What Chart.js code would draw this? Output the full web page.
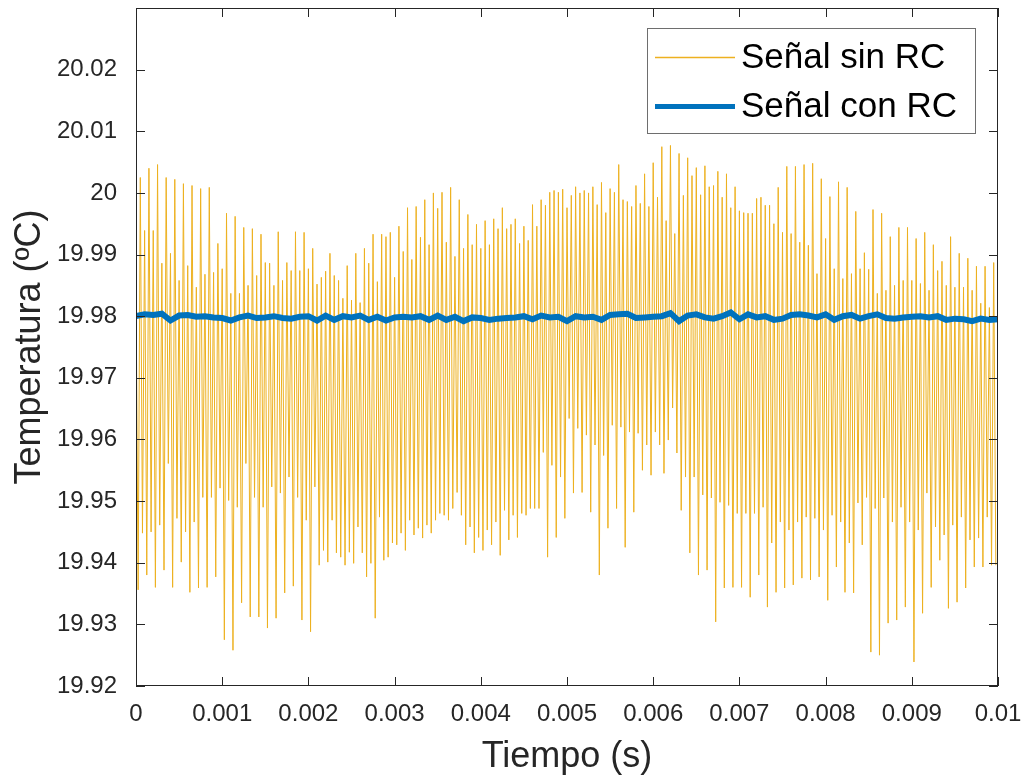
<!DOCTYPE html>
<html>
<head>
<meta charset="utf-8">
<script src="https://cdn.jsdelivr.net/npm/chart.js@4.4.1/dist/chart.umd.min.js"></script>
<style>
  body { margin: 0; background: #fff; }
  #caja { width: 1025px; height: 779px; }
</style>
</head>
<body>
<div id="caja"><canvas id="myChart" width="1025" height="779"></canvas></div>
<script>
// periodo de la oscilacion (s), 4 muestras por periodo
const periodo = 0.0001;

// picos altos de cada periodo (segunda muestra alta)
const picosA = [
  20.0025, 20.0040, 20.0046, 20.0025, 20.0022, 20.0015, 20.0012, 20.0007, 20.0009, 19.9918,
  19.9967, 19.9962, 19.9944, 19.9942, 19.9933, 19.9886, 19.9937, 19.9887, 19.9937, 19.9936,
  19.9910, 19.9863, 19.9902, 19.9858, 19.9882, 19.9902, 19.9910, 19.9933, 19.9933, 19.9936,
  19.9946, 19.9976, 19.9978, 19.9989, 20.0000, 20.0001, 20.0009, 19.9989, 19.9965, 19.9949,
  19.9955, 19.9958, 19.9976, 19.9949, 19.9918, 19.9923, 19.9946, 19.9980, 20.0004, 20.0006,
  19.9996, 20.0000, 20.0000, 19.9981, 19.9968, 20.0001, 19.9989, 19.9978, 19.9983, 19.9978,
  19.9993, 19.9955, 19.9934, 19.9996, 20.0028, 19.9997, 20.0010, 20.0035, 20.0031, 20.0010,
  19.9968, 19.9967, 19.9993, 19.9980, 20.0009, 20.0043, 20.0043, 20.0046, 20.0048, 20.0023,
  19.9994, 20.0018, 20.0009, 19.9970, 19.9903, 19.9973, 19.9967, 19.9929, 19.9944, 19.9944,
  19.9926, 19.9936, 19.9916, 19.9889, 19.9929, 19.9902, 19.9894, 19.9881, 19.9881, 19.9887
];

// picos de la primera muestra de cada periodo
const picosB = [
  19.9850, 19.9939, 19.9939, 19.9886, 19.9902, 19.9858, 19.9882, 19.9847, 19.9868, 19.9871,
  19.9877, 19.9837, 19.9837, 19.9850, 19.9866, 19.9887, 19.9850, 19.9858, 19.9874, 19.9874,
  19.9877, 19.9852, 19.9873, 19.9866, 19.9829, 19.9826, 19.9822, 19.9886, 19.9856, 19.9929,
  19.9863, 19.9905, 19.9892, 19.9928, 19.9916, 19.9975, 19.9920, 19.9897, 19.9910, 19.9916,
  19.9910, 19.9916, 19.9942, 19.9942, 19.9958, 19.9946, 19.9981, 19.9989, 20.0001, 20.0001,
  19.9976, 20.0010, 20.0004, 20.0010, 20.0017, 20.0007, 20.0046, 19.9986, 20.0012, 20.0031,
  20.0049, 20.0075, 20.0077, 20.0064, 20.0057, 20.0041, 20.0044, 20.0012, 19.9993, 19.9976,
  19.9971, 19.9967, 19.9991, 19.9980, 19.9950, 19.9936, 19.9934, 19.9920, 19.9915, 19.9869,
  19.9926, 19.9877, 19.9861, 19.9869, 19.9877, 19.9876, 19.9837, 19.9842, 19.9850, 19.9858,
  19.9858, 19.9853, 19.9842, 19.9874, 19.9850, 19.9847, 19.9847, 19.9842, 19.9821, 19.9814
];

// valles entre B y A
const vallesC = [
  19.9356, 19.9380, 19.9360, 19.9388, 19.9360, 19.9401, 19.9352, 19.9359, 19.9360, 19.9377,
  19.9275, 19.9258, 19.9335, 19.9312, 19.9312, 19.9294, 19.9310, 19.9351, 19.9362, 19.9307,
  19.9288, 19.9396, 19.9401, 19.9416, 19.9396, 19.9399, 19.9416, 19.9399, 19.9474, 19.9409,
  19.9429, 19.9420, 19.9445, 19.9440, 19.9448, 19.9480, 19.9469, 19.9514, 19.9429, 19.9416,
  19.9420, 19.9429, 19.9412, 19.9437, 19.9441, 19.9477, 19.9488, 19.9579, 19.9558, 19.9539,
  19.9634, 19.9618, 19.9607, 19.9591, 19.9574, 19.9623, 19.9620, 19.9612, 19.9610, 19.9591,
  19.9612, 19.9545, 19.9651, 19.9485, 19.9416, 19.9380, 19.9388, 19.9304, 19.9359, 19.9360,
  19.9360, 19.9344, 19.9380, 19.9328, 19.9352, 19.9359, 19.9364, 19.9375, 19.9372, 19.9377,
  19.9339, 19.9393, 19.9352, 19.9351, 19.9429, 19.9255, 19.9250, 19.9302, 19.9307, 19.9328,
  19.9239, 19.9318, 19.9360, 19.9404, 19.9326, 19.9336, 19.9359, 19.9393, 19.9393, 19.9396
];

// valles despues de A
const vallesD = [
  19.9448, 19.9450, 19.9461, 19.9561, 19.9472, 19.9450, 19.9466, 19.9506, 19.9506, 19.9521,
  19.9501, 19.9490, 19.9561, 19.9506, 19.9490, 19.9523, 19.9513, 19.9539, 19.9506, 19.9469,
  19.9523, 19.9420, 19.9469, 19.9409, 19.9417, 19.9458, 19.9377, 19.9310, 19.9404, 19.9432,
  19.9448, 19.9469, 19.9456, 19.9461, 19.9469, 19.9477, 19.9488, 19.9477, 19.9458, 19.9441,
  19.9453, 19.9466, 19.9485, 19.9477, 19.9480, 19.9488, 19.9488, 19.9409, 19.9441, 19.9472,
  19.9513, 19.9514, 19.9482, 19.9380, 19.9456, 19.9488, 19.9425, 19.9482, 19.9550, 19.9542,
  19.9591, 19.9599, 19.9578, 19.9539, 19.9539, 19.9510, 19.9505, 19.9498, 19.9493, 19.9480,
  19.9480, 19.9480, 19.9490, 19.9432, 19.9466, 19.9453, 19.9466, 19.9474, 19.9472, 19.9453,
  19.9477, 19.9466, 19.9432, 19.9497, 19.9506, 19.9488, 19.9505, 19.9466, 19.9490, 19.9466,
  19.9453, 19.9513, 19.9458, 19.9445, 19.9461, 19.9474, 19.9437, 19.9440, 19.9474, 19.9396
];

// senal filtrada con RC, una muestra por periodo (0 .. 0.01 s)
const senalRC = [
  19.9800, 19.9803, 19.9802, 19.9804, 19.9793, 19.9801, 19.9802, 19.9799, 19.9800, 19.9798,
  19.9797, 19.9793, 19.9798, 19.9801, 19.9797, 19.9798, 19.9800, 19.9797, 19.9796, 19.9799,
  19.9800, 19.9793, 19.9801, 19.9794, 19.9800, 19.9798, 19.9801, 19.9794, 19.9799, 19.9793,
  19.9798, 19.9799, 19.9798, 19.9800, 19.9794, 19.9801, 19.9794, 19.9799, 19.9792, 19.9798,
  19.9797, 19.9794, 19.9796, 19.9797, 19.9798, 19.9800, 19.9795, 19.9801, 19.9798, 19.9799,
  19.9792, 19.9800, 19.9798, 19.9799, 19.9794, 19.9802, 19.9803, 19.9804, 19.9797, 19.9798,
  19.9799, 19.9800, 19.9805, 19.9792, 19.9801, 19.9803, 19.9798, 19.9796, 19.9800, 19.9806,
  19.9795, 19.9803, 19.9798, 19.9800, 19.9794, 19.9796, 19.9802, 19.9803, 19.9801, 19.9798,
  19.9803, 19.9794, 19.9800, 19.9802, 19.9796, 19.9800, 19.9803, 19.9797, 19.9796, 19.9798,
  19.9799, 19.9800, 19.9798, 19.9800, 19.9794, 19.9796, 19.9795, 19.9792, 19.9796, 19.9794,
  19.9795
];

const ticksX = [0, 0.001, 0.002, 0.003, 0.004, 0.005, 0.006, 0.007, 0.008, 0.009, 0.01];
const ticksY = [19.92, 19.93, 19.94, 19.95, 19.96, 19.97, 19.98, 19.99, 20, 20.01, 20.02];

// armar los puntos (x = tiempo)
const datosSinRC = [];
for (let k = 0; k < picosA.length; k++) {
  const t0 = k * periodo;
  datosSinRC.push({ x: t0, y: picosB[k] });
  datosSinRC.push({ x: t0 + periodo / 4, y: vallesC[k] });
  datosSinRC.push({ x: t0 + periodo / 2, y: picosA[k] });
  datosSinRC.push({ x: t0 + (3 * periodo) / 4, y: vallesD[k] });
}
const datosConRC = senalRC.map((v, k) => ({ x: k * periodo, y: v }));

const colorTexto = "#262626";

// caja de ejes con marcas hacia dentro + leyenda
const marco = {
  id: "marco",
  afterDatasetsDraw(chart) {
    const ctx = chart.ctx;
    const a = chart.chartArea;
    const sx = chart.scales.x;
    const sy = chart.scales.y;
    const largo = 9;
    ctx.save();
    ctx.strokeStyle = colorTexto;
    ctx.lineWidth = 1;
    ctx.strokeRect(a.left + 0.5, a.top + 0.5, a.right - a.left - 1, a.bottom - a.top - 1);
    ctx.beginPath();
    ticksX.forEach((v) => {
      const px = Math.round(sx.getPixelForValue(v)) + 0.5;
      ctx.moveTo(px, a.bottom);
      ctx.lineTo(px, a.bottom - largo);
      ctx.moveTo(px, a.top);
      ctx.lineTo(px, a.top + largo);
    });
    ticksY.forEach((v) => {
      const py = Math.round(sy.getPixelForValue(v)) + 0.5;
      ctx.moveTo(a.left, py);
      ctx.lineTo(a.left + largo, py);
      ctx.moveTo(a.right, py);
      ctx.lineTo(a.right - largo, py);
    });
    ctx.stroke();

    // leyenda
    const ds = chart.data.datasets;
    ctx.fillStyle = "#fff";
    ctx.fillRect(647, 28, 328, 105);
    ctx.strokeStyle = "#6e6e6e";
    ctx.lineWidth = 1;
    ctx.strokeRect(647.5, 28.5, 328, 105);
    const filas = [57, 106];
    const grosor = [1.5, 5];
    ctx.font = "35px 'Liberation Sans', Arial, sans-serif";
    ctx.textBaseline = "middle";
    ctx.textAlign = "left";
    ds.forEach((d, i) => {
      ctx.strokeStyle = d.borderColor;
      ctx.lineWidth = grosor[i];
      ctx.beginPath();
      ctx.moveTo(655, filas[i] + 0.5);
      ctx.lineTo(735, filas[i] + 0.5);
      ctx.stroke();
      ctx.fillStyle = "#000";
      ctx.fillText(d.label, 741, filas[i] + 1);
    });
    ctx.restore();
  },
};

function grafico() {
  Chart.defaults.font.family = "'Liberation Sans', Arial, sans-serif";
  Chart.defaults.color = colorTexto;
  const ctx = document.getElementById("myChart");
  const myChart = new Chart(ctx, {
    type: "line",
    data: {
      datasets: [
        {
          label: "Señal sin RC",
          data: datosSinRC,
          borderColor: "#EDB120",
          borderWidth: 1,
          pointRadius: 0,
          order: 2,
        },
        {
          label: "Señal con RC",
          data: datosConRC,
          borderColor: "#0072BD",
          borderWidth: 6,
          pointRadius: 0,
          order: 1,
        },
      ],
    },
    options: {
      responsive: false,
      animation: false,
      layout: { padding: { left: 0, right: 27, top: 8, bottom: 0 } },
      plugins: {
        legend: { display: false },
        tooltip: { enabled: false },
      },
      scales: {
        x: {
          type: "linear",
          min: 0,
          max: 0.01,
          afterBuildTicks: (s) => { s.ticks = ticksX.map((v) => ({ value: v })); },
          afterFit: (s) => {
            s.height = 93;
            s.paddingLeft = 0;
            s.paddingRight = 0;
          },
          grid: { display: false, drawTicks: false },
          border: { display: false },
          ticks: {
            padding: 14,
            font: { size: 24 },
            color: colorTexto,
            maxRotation: 0,
            callback: (v) => String(Number(v.toFixed(4))),
          },
          title: {
            display: true,
            text: "Tiempo (s)",
            font: { size: 36 },
            color: colorTexto,
            padding: { top: 0, bottom: 0 },
          },
        },
        y: {
          type: "linear",
          min: 19.92,
          max: 20.03,
          afterBuildTicks: (s) => { s.ticks = ticksY.map((v) => ({ value: v })); },
          afterFit: (s) => {
            s.width = 136;
            s.paddingTop = 0;
            s.paddingBottom = 0;
          },
          grid: { display: false, drawTicks: false },
          border: { display: false },
          ticks: {
            padding: 19,
            font: { size: 24 },
            color: colorTexto,
            callback: (v) => String(Number(v.toFixed(3))),
          },
          title: {
            display: true,
            text: "Temperatura (ºC)",
            font: { size: 36 },
            color: colorTexto,
            padding: { top: 8, bottom: 0 },
          },
        },
      },
    },
    plugins: [marco],
  });
}

grafico();
</script>
</body>
</html>
